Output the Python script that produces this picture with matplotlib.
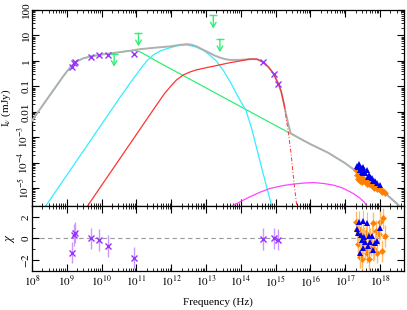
import numpy as np
import matplotlib
matplotlib.use("Agg")
import matplotlib.pyplot as plt
from matplotlib.ticker import LogLocator, NullFormatter, FixedLocator, MultipleLocator

plt.rcParams['font.family'] = ['Liberation Serif', 'DejaVu Serif']
plt.rcParams['mathtext.fontset'] = 'stix'

# ---- model curves (log10 nu [Hz], log10 I [mJy]) ----
total_lognu = [8.00, 8.33, 8.60, 8.90, 9.00, 9.10, 9.20, 9.30, 9.47, 9.70, 10.00, 10.40, 10.82,
               11.10, 11.39, 11.70, 11.97, 12.20, 12.45, 12.60, 12.73, 12.90, 13.11, 13.25,
               13.40, 13.55, 13.69, 13.98, 14.26, 14.46, 14.65, 14.80, 14.93, 15.08, 15.16,
               15.22, 15.30, 15.43, 15.70, 16.00, 16.50, 17.00, 17.33, 17.60, 17.91, 18.20,
               18.48, 18.60]
total_logI = [-2.35, -1.70, -1.18, -0.60, -0.42, -0.25, -0.11, -0.01, 0.10, 0.18, 0.25, 0.32, 0.40,
              0.46, 0.50, 0.54, 0.57, 0.62, 0.66, 0.63, 0.57, 0.45, 0.31, 0.21,
              0.13, 0.07, 0.04, 0.04, 0.07, 0.07, -0.05, -0.25, -0.48, -0.90, -1.20,
              -1.55, -2.10, -2.84, -3.05, -3.27, -3.60, -4.02, -4.35, -4.62, -4.94, -5.26,
              -5.60, -5.75]

green_lognu = [8.00, 8.33, 8.60, 8.90, 9.00, 9.10, 9.20, 9.30, 9.47, 9.70, 10.00, 10.40, 10.60,
               10.80, 10.95, 11.10, 11.30, 11.50, 11.77, 12.50, 13.50, 14.50, 15.41, 16.00,
               16.50, 17.00, 17.33, 17.60, 17.91, 18.20, 18.48, 18.60]
green_logI = [-2.35, -1.70, -1.18, -0.60, -0.42, -0.25, -0.11, -0.01, 0.10, 0.18, 0.25, 0.32, 0.36,
              0.40, 0.41, 0.36, 0.21, 0.05, -0.15, -0.69, -1.43, -2.17, -2.84, -3.27,
              -3.60, -4.02, -4.35, -4.62, -4.94, -5.26, -5.60, -5.75]

cyan_lognu = [8.40, 9.00, 9.50, 10.00, 10.48, 10.82, 11.10, 11.30, 11.49, 11.70, 11.97, 12.20,
              12.45, 12.70, 12.92, 13.10, 13.31, 13.50, 13.69, 13.85, 13.98, 14.15, 14.30,
              14.47, 14.60, 14.74, 14.89]
cyan_logI = [-5.69, -4.49, -3.49, -2.49, -1.53, -0.87, -0.35, 0.00, 0.24, 0.40, 0.52, 0.60,
             0.63, 0.55, 0.42, 0.24, -0.02, -0.38, -0.81, -1.22, -1.55, -1.95, -2.60,
             -3.50, -4.20, -4.94, -5.70]

red_lognu = [9.55, 10.00, 10.50, 11.00, 11.30, 11.58, 11.80, 11.97, 12.15, 12.35, 12.55, 12.73,
             13.00, 13.31, 13.69, 13.98, 14.26, 14.46, 14.65, 14.80, 14.93, 15.08, 15.16, 15.25]
red_logI = [-5.79, -4.89, -3.89, -2.89, -2.29, -1.73, -1.30, -1.02, -0.75, -0.55, -0.43, -0.35,
            -0.27, -0.18, -0.07, 0.00, 0.07, 0.07, -0.05, -0.25, -0.48, -0.90, -1.20, -1.75]
red_tail_lognu = [15.25, 15.30, 15.37, 15.45, 15.53, 15.61]
red_tail_logI = [-1.75, -2.20, -2.84, -3.70, -4.81, -5.70]

mag_lognu = [13.74, 14.00, 14.26, 14.55, 14.84, 15.20, 15.51, 15.80, 16.10, 16.40, 16.66,
             16.90, 17.14, 17.30, 17.43, 17.55, 17.62]
mag_logI = [-5.71, -5.52, -5.34, -5.16, -5.01, -4.90, -4.84, -4.80, -4.78, -4.82, -4.88,
            -4.98, -5.14, -5.27, -5.40, -5.55, -5.71]

# ---- data ----
radio_lognu = [9.14, 9.21, 9.24, 9.69, 9.93, 10.18, 10.94]
radio_logI = [-0.23, -0.08, -0.03, 0.17, 0.23, 0.22, 0.27]
radio_chi = [-1.3, 0.35, 0.55, 0.0, -0.15, -0.7, -1.8]

opt_lognu = [14.64, 14.94, 15.07]
opt_logI = [-0.06, -0.51, -0.90]
opt_chi = [-0.05, 0.0, -0.1]

lim_lognu = [10.36, 11.06, 13.21, 13.40]
lim_logI = [0.29, 1.09, 1.79, 0.86]

blue_lognu = [17.35, 17.38, 17.41, 17.43, 17.45, 17.47, 17.50, 17.52, 17.55, 17.58, 17.62,
              17.65, 17.68, 17.72, 17.76, 17.81, 17.86, 17.92, 18.00]
blue_logI = [-4.12, -4.18, -4.05, -4.30, -4.22, -4.35, -4.15, -4.42, -4.32, -4.40, -4.30,
             -4.55, -4.48, -4.58, -4.60, -4.72, -4.73, -4.80, -4.88]
blue_chi = [0.9, 0.5, 1.55, -1.3, 0.3, -0.1, 1.6, -0.85, 0.1, -0.3, 1.4,
            -0.7, 0.2, -0.3, 0.2, -1.1, -0.4, -0.2, 0.95]

orange_lognu = [17.32, 17.34, 17.37, 17.40, 17.43, 17.46, 17.48, 17.52, 17.56, 17.60, 17.64,
                17.67, 17.71, 17.75, 17.80, 17.84, 17.88, 17.92, 17.96, 18.00, 18.05, 18.10, 18.15]
orange_logI = [-4.30, -4.50, -4.62, -4.45, -4.70, -4.55, -4.75, -4.62, -4.70, -4.68, -4.82,
               -4.85, -4.80, -4.86, -4.90, -4.98, -4.95, -5.05, -5.02, -5.05, -5.15, -5.10, -5.20]
orange_chi = [1.55, 0.8, -0.5, 0.9, -1.75, 0.3, -1.9, -0.2, -0.9, 0.5, -1.3,
              -1.9, 0.0, -0.6, 1.4, -1.0, 0.7, -1.3, 0.4, 1.55, -1.15, 1.85, 0.2]

ytick_vals = [-5, -4, -3, -2, -1, 0, 1, 2]
ytick_labels = [r'$10^{-5}$', r'$10^{-4}$', r'$10^{-3}$', '0.01', '0.1', '1', '10', '100']
xtick_exps = [8, 9, 10, 11, 12, 13, 14, 15, 16, 17, 18]

C_GRAY = '#b0b0b0'
C_GREEN = '#33ee77'
C_CYAN = '#33eeff'
C_RED = '#ff3333'
C_MAG = '#ff44ff'
C_PURPLE = '#9933ff'
C_BLUE = '#0000ee'
C_ORANGE = '#ff8000'


def p(v):
    return 10 ** np.asarray(v, dtype=float)


W, H = 407, 310
fig = plt.figure(figsize=(W / 100, H / 100), dpi=100)
ax1 = fig.add_axes([32 / W, 1 - 206 / H, 372 / W, 196 / H])
ax2 = fig.add_axes([32 / W, 1 - 271 / H, 372 / W, 65 / H], sharex=ax1)

# top panel
ax1.plot(p(green_lognu), p(green_logI), color=C_GREEN, lw=0.9, zorder=2)
ax1.plot(p(cyan_lognu), p(cyan_logI), color=C_CYAN, lw=0.9, zorder=2)
ax1.plot(p(mag_lognu), p(mag_logI), color=C_MAG, lw=0.9, zorder=2)
ax1.plot(p(total_lognu), p(total_logI), color=C_GRAY, lw=1.4, zorder=3)
ax1.plot(p(red_lognu), p(red_logI), color=C_RED, lw=0.9, zorder=4)
ax1.plot(p(red_tail_lognu), p(red_tail_logI), color=C_RED, lw=0.7, ls='-.',
         dashes=(4, 2, 1, 2), zorder=4)

ax1.plot(p(radio_lognu), p(radio_logI), 'x', color=C_PURPLE, ms=5, mew=1, zorder=5)
ax1.plot(p(opt_lognu), p(opt_logI), 'x', color=C_PURPLE, ms=5, mew=1, zorder=5)
ax1.plot(p(orange_lognu), p(orange_logI), 'D', color=C_ORANGE, ms=3.5, mew=0, zorder=5)
ax1.plot(p(blue_lognu), p(blue_logI), '^', color=C_BLUE, ms=4.5, mew=0, zorder=6)

for lx, ly in zip(lim_lognu, lim_logI):
    ax1.plot(p(lx), p(ly), '_', color=C_GREEN, ms=6, mew=1, zorder=5)
    ax1.annotate('', xy=(p(lx), p(ly - 0.52)), xytext=(p(lx), p(ly)),
                 arrowprops=dict(arrowstyle='->,head_length=0.35,head_width=0.2',
                                 color=C_GREEN, lw=1, shrinkA=0, shrinkB=0), zorder=5)

ax1.set_xscale('log')
ax1.set_yscale('log')
ax1.set_xlim(1e8, 10 ** 18.69)
ax1.set_ylim(10 ** -5.7, 100)
ax1.set_yticks(p(ytick_vals), ytick_labels)
ax1.yaxis.set_minor_locator(LogLocator(base=10, subs=np.arange(2, 10), numticks=20))
ax1.yaxis.set_minor_formatter(NullFormatter())
ax1.set_ylabel(r'I$_\nu$ (mJy)', fontsize=8, labelpad=2)

# residual panel
ax2.axhline(0, color='#999999', lw=0.8, ls='--', dashes=(4, 3), zorder=1)
ax2.errorbar(p(radio_lognu), radio_chi, yerr=1, fmt='x', color=C_PURPLE, ecolor='#cc99ff',
             ms=5, mew=1, elinewidth=1, zorder=3)
ax2.errorbar(p(opt_lognu), opt_chi, yerr=1, fmt='x', color=C_PURPLE, ecolor='#cc99ff',
             ms=5, mew=1, elinewidth=1, zorder=3)
ax2.errorbar(p(orange_lognu), orange_chi, yerr=1, fmt='D', color=C_ORANGE, ecolor='#ffbb66',
             ms=3.5, mew=0, elinewidth=1, zorder=3)
ax2.errorbar(p(blue_lognu), blue_chi, yerr=1, fmt='^', color=C_BLUE, ecolor='#ffbb66',
             ms=4.5, mew=0, elinewidth=0.8, zorder=4)
ax2.set_ylim(-3, 3)
ax2.set_yticks([-2, 0, 2], [r'$-2$', '0', '2'])
ax2.yaxis.set_minor_locator(MultipleLocator(1))
ax2.set_ylabel(r'$\chi$', fontsize=9, labelpad=2)
ax2.set_xlabel('Frequency (Hz)', fontsize=8, labelpad=6)
ax2.set_xticks(p(xtick_exps), [r'$10^{%d}$' % e for e in xtick_exps])
ax2.xaxis.set_minor_locator(LogLocator(base=10, subs=np.arange(2, 10), numticks=20))

for ax in (ax1, ax2):
    ax.tick_params(which='both', direction='in', top=True, right=True, labelsize=8, pad=2)
    ax.tick_params(which='major', length=5, width=0.8)
    ax.tick_params(which='minor', length=2.5, width=0.6)
    ax.tick_params(axis='y', pad=1)
    for lab in ax.get_yticklabels():
        lab.set_rotation(90)
        lab.set_va('center')
    for s in ax.spines.values():
        s.set_linewidth(0.9)
plt.setp(ax1.get_xticklabels(), visible=False)

fig.savefig('out.png', dpi=100)
